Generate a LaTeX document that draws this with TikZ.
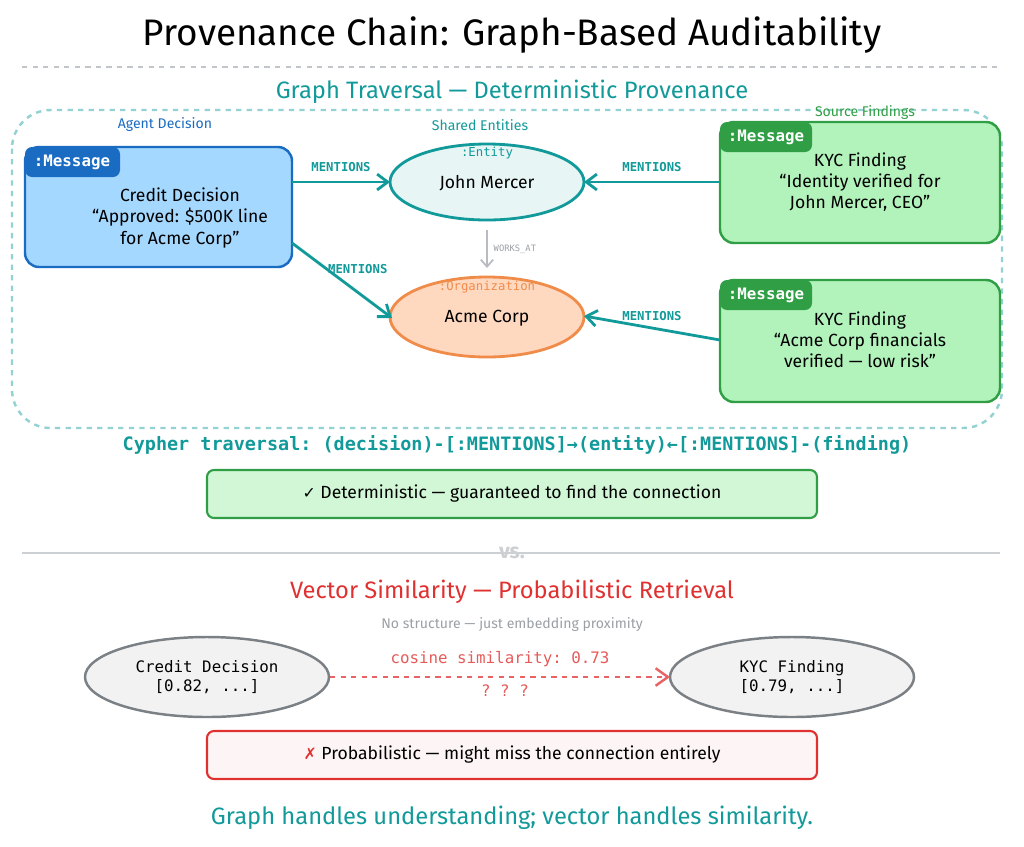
\documentclass[tikz,border=0pt]{standalone}
\usepackage{fontspec}
\setmainfont{Fira Sans}
\setmonofont{DejaVu Sans Mono}
\newfontfamily\symf{DejaVu Sans}
\usetikzlibrary{positioning,arrows.meta}
\definecolor{teal1}{HTML}{12999A}
\definecolor{bluedk}{HTML}{1A6BC2}
\definecolor{bluelt}{HTML}{A5D8FF}
\definecolor{greendk}{HTML}{2F9E44}
\definecolor{greenlt}{HTML}{B2F2BB}
\definecolor{orng}{HTML}{F08C4A}
\definecolor{orlt}{HTML}{FFD8C0}
\definecolor{redc}{HTML}{E03131}
\definecolor{grayc}{HTML}{9AA0A6}
\begin{document}
\begin{tikzpicture}[x=0.02cm, y=-0.02cm,
    msgbox/.style={draw, line width=1.4pt, rounded corners=8pt, align=center, font=\normalsize},
    tab/.style={rounded corners=4pt, text=white, font=\ttfamily\bfseries\small, inner sep=0pt},
    rel/.style={-{Straight Barb[length=6pt,width=9pt]}, line width=1.6pt, teal1},
    rlab/.style={font=\ttfamily\scriptsize\bfseries, teal1},
    note/.style={draw, line width=1.2pt, rounded corners=4pt},
    head/.style={font=\fontsize{13.5}{16}\selectfont}]
  \useasboundingbox (0,0) rectangle (1024,846);
  % headings
  \node (title) at (512,35) {\fontsize{21}{24}\selectfont Provenance Chain: Graph-Based Auditability};
  \draw[grayc!60, dashed, line width=1pt] (22,67) -- (1000,67);
  \node[teal1, head] (gtitle) at (512,92) {Graph Traversal — Deterministic Provenance};
  \draw[teal1!45, dashed, line width=1.4pt, rounded corners=22pt] (12,110) rectangle (1002,428);
  \node[bluedk, font=\footnotesize] (lagent) at (165,125) {Agent Decision};
  \node[teal1, font=\footnotesize] (lshared) at (480,125) {Shared Entities};
  \node[greendk, font=\footnotesize] (lsource) at (865,113) {Source Findings};

  % decision
  \draw[msgbox, bluedk, fill=bluelt] (25,147) rectangle (292,267);
  \fill[tab, bluedk] (25,147) rectangle (120,177);
  \node[tab] (dtab) at (72,162) {:Message};
  \node[align=center] (dtext) at (180,218) {Credit Decision\\``Approved: \$500K line\\for Acme Corp''};
  \coordinate (d1) at (292,182);
  \coordinate (d2) at (292,243);

  % entities
  \draw[teal1, line width=1.6pt, fill=teal1!10] (487,182) ellipse (97 and 38);
  \node[teal1, font=\ttfamily\scriptsize] (etype) at (487,153) {:Entity};
  \node (john) at (487,183) {John Mercer};
  \draw[orng, line width=1.6pt, fill=orlt] (487,317) ellipse (97 and 40);
  \node[orng, font=\ttfamily\scriptsize] (otype) at (487,287) {:Organization};
  \node (acme) at (487,318) {Acme Corp};
  \coordinate (jw) at (390,182);  \coordinate (je) at (584,182);
  \coordinate (jb) at (487,230);  \coordinate (at) at (487,268);
  \coordinate (aw) at (392,318);  \coordinate (ae) at (584,316);

  % findings
  \draw[msgbox, greendk, fill=greenlt] (720,122) rectangle (1000,243);
  \fill[tab, greendk] (720,122) rectangle (812,152);
  \node[tab] (f1tab) at (766,137) {:Message};
  \node[align=center] (f1text) at (860,182) {KYC Finding\\``Identity verified for\\John Mercer, CEO''};
  \draw[msgbox, greendk, fill=greenlt] (720,280) rectangle (1000,402);
  \fill[tab, greendk] (720,280) rectangle (812,310);
  \node[tab] (f2tab) at (766,295) {:Message};
  \node[align=center] (f2text) at (860,340) {KYC Finding\\``Acme Corp financials\\verified — low risk''};
  \coordinate (f1) at (720,182);
  \coordinate (f2) at (720,340);

  % relations
  \draw[rel] (d1) -- node[rlab, above=2pt] {MENTIONS} (jw);
  \draw[rel] (d2) -- node[rlab, above right=0pt and -12pt] {MENTIONS} (aw);
  \draw[rel] (f1) -- node[rlab, above=2pt] {MENTIONS} (je);
  \draw[rel] (f2) -- node[rlab, above=0pt] {MENTIONS} (ae);
  \draw[-{Straight Barb[length=4pt,width=7pt]}, grayc!70, line width=1pt] (jb) -- node[right, font=\ttfamily\tiny, grayc] {WORKS\_AT} (at);

  \node[teal1, font=\ttfamily\bfseries\fontsize{10.5}{12}\selectfont] (cypher) at (517,445) {Cypher traversal: (decision)-[:MENTIONS]→(entity)←[:MENTIONS]-(finding)};
  \draw[note, greendk, fill=greenlt!60] (207,470) rectangle (817,518);
  \node (det) at (512,494) {{\symf\small ✓} Deterministic — guaranteed to find the connection};

  % vector part
  \draw[grayc!50, line width=1.4pt] (22,553) -- (1000,553);
  \node[grayc!50, font=\large\bfseries] (vs) at (512,553) {vs.};
  \node[redc, head] (vtitle) at (512,592) {Vector Similarity — Probabilistic Retrieval};
  \node[grayc, font=\footnotesize] (vsub) at (512,625) {No structure — just embedding proximity};
  \draw[grayc!80!black, line width=1.4pt, fill=gray!10] (207,677) ellipse (122 and 40);
  \node[align=center, font=\ttfamily\small] (vd) at (207,677) {Credit Decision\\{}[0.82, ...]};
  \draw[grayc!80!black, line width=1.4pt, fill=gray!10] (792,677) ellipse (122 and 40);
  \node[align=center, font=\ttfamily\small] (vf) at (792,677) {KYC Finding\\{}[0.79, ...]};
  \coordinate (vd1) at (330,677);
  \coordinate (vf1) at (670,677);
  \draw[-{Straight Barb[length=7pt,width=10pt]}, redc!75, dashed, line width=1.4pt] (vd1) -- (vf1);
  \node[redc!80, font=\ttfamily\small] (cos) at (500,659) {cosine similarity: 0.73};
  \node[redc!80, font=\ttfamily\small] (qq) at (505,691) {? ? ?};
  \draw[note, redc, fill=redc!5] (207,731) rectangle (817,779);
  \node (prob) at (512,755) {{\symf\small\color{redc}✗} Probabilistic — might miss the connection entirely};
  \node[teal1, head] (foot) at (512,818) {Graph handles understanding; vector handles similarity.};
\end{tikzpicture}
\end{document}
